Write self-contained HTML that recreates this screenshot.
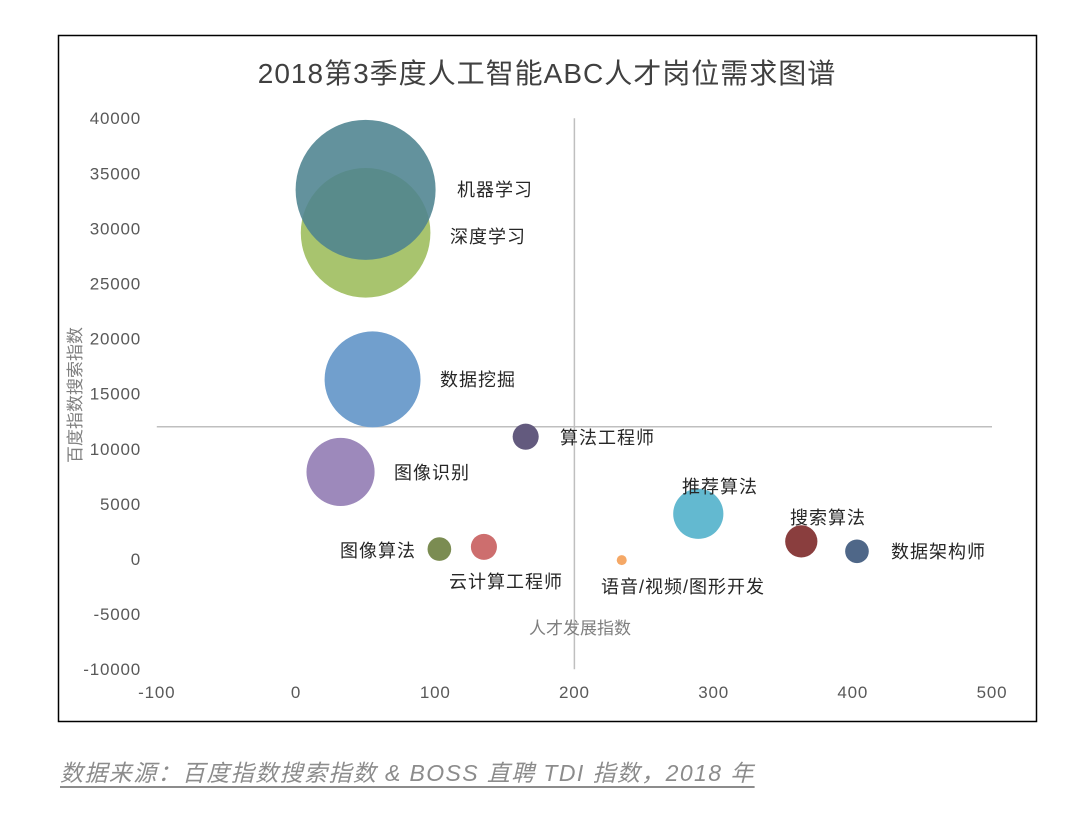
<!DOCTYPE html>
<html><head><meta charset="utf-8">
<style>
body{margin:0;background:#fff;width:1080px;height:815px;overflow:hidden;font-family:"Liberation Sans","Noto Sans CJK SC",sans-serif;}
svg{position:absolute;left:0;top:0}
#note{position:absolute;left:60px;top:754px;font-size:23px;letter-spacing:1.4px;color:#8c8c8c;font-style:italic;text-decoration:underline;text-underline-offset:5px;white-space:nowrap}
</style></head><body>
<svg id="chart" width="1080" height="815"></svg>
<div id="note">数据来源：百度指数搜索指数 &amp; BOSS 直聘 TDI 指数，2018 年</div>
<script>
const labels=["深度学习","机器学习","数据挖掘","算法工程师","图像识别","推荐算法","搜索算法","数据架构师","图像算法","云计算工程师","语音/视频/图形开发"];
const xVals=[50,50,55,165,32,289,363,403,103,135,234];
const yVals=[29600,33500,16300,11100,7900,4100,1600,700,900,1100,-100];
const sizes=[42,49,23,1.7,11.6,6.3,2.6,1.4,1.4,1.7,0.25];
const xTicks=[-100,0,100,200,300,400,500];
const yTicks=[-10000,-5000,0,5000,10000,15000,20000,25000,30000,35000,40000];
const colors=["#a8c46e","#4d8390","#719fcd","#635a7e","#9d89bb","#63b9d0","#8a3e3e","#4f6788","#7b8c52","#cd6e6e","#f5a866"];
const opac=[1,0.88,1,1,1,1,1,1,1,1,1];
const labelPos=[[450,236,"start"],[457,189,"start"],[440,379,"start"],[560,437,"start"],[394,472,"start"],[720,486,"middle"],[828,517,"middle"],[891,551,"start"],[416,550,"end"],[506,581,"middle"],[683,586,"middle"]];
const xs=v=>296+(v)*1.392;
const ys=v=>559-v*0.01102;
const NS="http://www.w3.org/2000/svg";
const svg=document.getElementById('chart');
function mk(t,a){const e=document.createElementNS(NS,t);for(const k in a)e.setAttribute(k,a[k]);svg.appendChild(e);return e;}
const frame=mk('rect',{x:58.5,y:35.5,width:978,height:686,fill:'none',stroke:'#000','stroke-width':1.5});


const title=mk('text',{x:547,y:83,'text-anchor':'middle','font-size':28,'letter-spacing':1,fill:'#404040'});
title.textContent="2018第3季度人工智能ABC人才岗位需求图谱";


yTicks.forEach(t=>{const e=mk('text',{x:141,y:ys(t)+6,'text-anchor':'end','font-size':17,'letter-spacing':0.8,fill:'#595959'});e.textContent=t;

});
xTicks.forEach(t=>{const e=mk('text',{x:xs(t),y:698,'text-anchor':'middle','font-size':17,'letter-spacing':0.8,fill:'#595959'});e.textContent=t;

});
const vl=mk('line',{x1:xs(200),x2:xs(200),y1:ys(40000),y2:ys(-10000),stroke:'#bfbfbf','stroke-width':1.5});


const hl=mk('line',{x1:xs(-100),x2:xs(500),y1:ys(12000),y2:ys(12000),stroke:'#bfbfbf','stroke-width':1.5});


const xt=mk('text',{x:580,y:634,'text-anchor':'middle','font-size':17,fill:'#7f7f7f'});xt.textContent="人才发展指数";


const yt=mk('text',{x:0,y:0,'text-anchor':'middle','font-size':17,fill:'#7f7f7f',transform:'translate(81,395) rotate(-90)'});yt.textContent="百度指数搜索指数";


labels.forEach((l,i)=>{
 const c=mk('circle',{cx:xs(xVals[i]),cy:ys(yVals[i]),r:10*Math.sqrt(sizes[i]),fill:colors[i],'fill-opacity':opac[i]});
 
 
 const p=labelPos[i];
 const t=mk('text',{x:p[0],y:p[1]+7,'text-anchor':p[2],'font-size':18,'letter-spacing':1,fill:'#262626'});t.textContent=l;
 
 
});
</script>
</body></html>
